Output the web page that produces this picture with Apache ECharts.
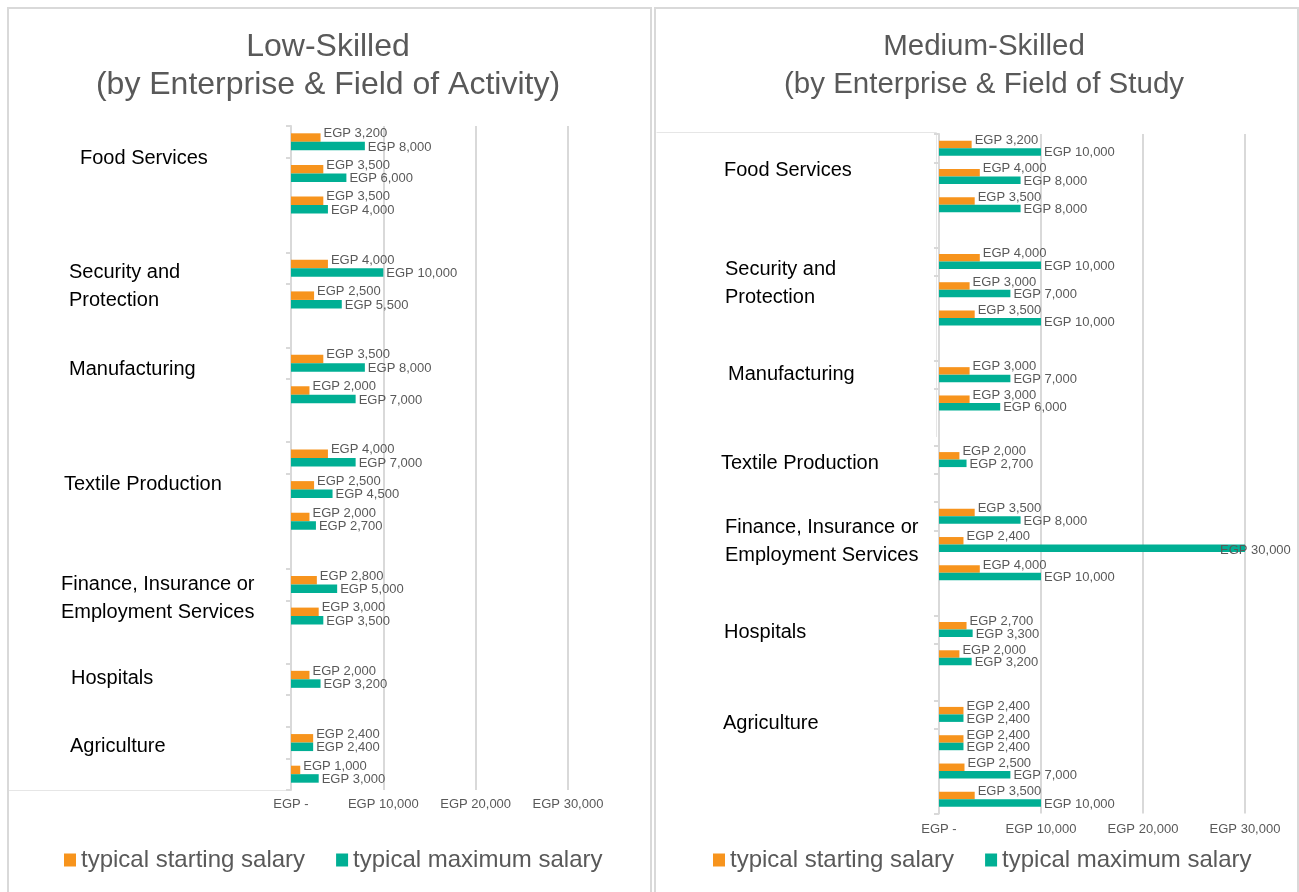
<!DOCTYPE html>
<html>
<head>
<meta charset="utf-8">
<script src="https://cdn.jsdelivr.net/npm/echarts@6/dist/echarts.min.js"></script>
<style>
  html, body { margin: 0; padding: 0; background: #fff; }
  #chart { width: 1299px; height: 892px; }
</style>
</head>
<body>
<div id="chart"></div>
<script>
// one inner array per field, one value per enterprise
const fieldNames = ['Food Services', 'Security and\nProtection', 'Manufacturing', 'Textile Production',
  'Finance, Insurance or\nEmployment Services', 'Hospitals', 'Agriculture'];

const lowStart = [[3200, 3500, 3500], [4000, 2500], [3500, 2000], [4000, 2500, 2000], [2800, 3000], [2000], [2400, 1000]];
const lowMax = [[8000, 6000, 4000], [10000, 5500], [8000, 7000], [7000, 4500, 2700], [5000, 3500], [3200], [2400, 3000]];

const midStart = [[3200, 4000, 3500], [4000, 3000, 3500], [3000, 3000], [2000], [3500, 2400, 4000], [2700, 2000], [2400, 2400, 2500, 3500]];
const midMax = [[10000, 8000, 8000], [10000, 7000, 10000], [7000, 6000], [2700], [8000, 30000, 10000], [3300, 3200], [2400, 2400, 7000, 10000]];

const xTicks = [0, 10000, 20000, 30000];
const seriesNames = ['typical starting salary', 'typical maximum salary'];
const titles = ['Low-Skilled\n(by Enterprise & Field of Activity)', 'Medium-Skilled\n(by Enterprise & Field of Study'];

// layout only: where the field names sit (x, centre of first line)
const lowLabelPos = [[80, 158], [69, 272], [69, 369], [64, 484], [61, 584], [71, 678], [70, 746]];
const midLabelPos = [[724, 170], [725, 269], [728, 374], [721, 463], [725, 527], [724, 632], [723, 723]];

const FONT = '"Liberation Sans", Arial, sans-serif';
const GREY = '#595959';
const ORANGE = '#F7941D';
const TEAL = '#00AF94';

// flatten groups with one empty slot between fields
function slots(groups) {
  const out = [];
  groups.forEach((g, i) => {
    if (i > 0) out.push('-');
    g.forEach(v => out.push(v));
  });
  return out;
}

// tick at start of each field and after its first enterprise
function tickSet(groups) {
  const s = new Set();
  let idx = 0;
  groups.forEach((g, i) => {
    if (i > 0) idx++;
    s.add(idx);
    s.add(idx + 1);
    idx += g.length;
  });
  return s;
}

function egp(v) {
  return v === 0 ? 'EGP -' : 'EGP ' + v.toLocaleString('en-US');
}

function barData(arr) {
  return slots(arr).map(v => {
    // label of a bar that runs to the edge sits over its end
    if (v !== '-' && v > 20000) return { value: v, label: { offset: [-28, 2] } };
    return v;
  });
}

function makeAxes(g, groups, labelMargin) {
  const n = slots(groups).length;
  const cats = [];
  for (let i = 0; i < n; i++) cats.push('s' + i);
  const ticks = tickSet(groups);
  return {
    x: {
      gridIndex: g, type: 'value', min: xTicks[0], max: xTicks[xTicks.length - 1], interval: xTicks[1] - xTicks[0],
      axisLine: { show: false }, axisTick: { show: false },
      axisLabel: { color: GREY, fontSize: 13, fontFamily: FONT, margin: labelMargin, formatter: egp },
      splitLine: { lineStyle: { color: '#d9d9d9', width: 2 } }
    },
    y: {
      gridIndex: g, type: 'category', inverse: true, data: cats,
      axisLine: { lineStyle: { color: '#d9d9d9', width: 2 } },
      axisTick: { show: true, length: 5, lineStyle: { color: '#d9d9d9', width: 2 }, interval: (i) => ticks.has(i) },
      axisLabel: { show: false }
    }
  };
}

function barSeries(name, g, arr, color, width, offsetY) {
  return {
    name: name, type: 'bar', xAxisIndex: g, yAxisIndex: g,
    data: barData(arr), barWidth: width, barGap: '0%',
    itemStyle: { color: color },
    label: {
      show: true, position: 'right', distance: 3, offset: [0, offsetY],
      color: GREY, fontSize: 13, fontFamily: FONT,
      formatter: p => egp(p.value)
    }
  };
}

function fieldLabels(pos) {
  return fieldNames.map((t, i) => ({
    type: 'text', z: 10,
    style: {
      text: t, x: pos[i][0], y: pos[i][1] - 14,
      font: '20px ' + FONT, fill: '#000', lineHeight: 28, verticalAlign: 'top'
    }
  }));
}

const lowAxes = makeAxes(0, lowStart, 8);
const midAxes = makeAxes(1, midStart, 9);

const myChart = echarts.init(document.getElementById('chart'), null, { renderer: 'canvas' });

myChart.setOption({
  animation: false,
  backgroundColor: '#fff',
  title: [
    { text: titles[0], left: 328, top: 28, textAlign: 'center', padding: 0,
      textStyle: { fontSize: 32, fontWeight: 'normal', color: GREY, lineHeight: 38, fontFamily: FONT } },
    { text: titles[1], left: 984, top: 28, textAlign: 'center', padding: 0,
      textStyle: { fontSize: 29.5, fontWeight: 'normal', color: GREY, lineHeight: 38, fontFamily: FONT } }
  ],
  legend: [
    { data: seriesNames, left: 64, top: 848, icon: 'rect', itemWidth: 12, itemHeight: 13, itemGap: 31, padding: 0,
      textStyle: { fontSize: 24, color: GREY, fontFamily: FONT } },
    { data: seriesNames, left: 713, top: 848, icon: 'rect', itemWidth: 12, itemHeight: 13, itemGap: 31, padding: 0,
      textStyle: { fontSize: 24, color: GREY, fontFamily: FONT } }
  ],
  grid: [
    { left: 291, right: 1299 - 568, top: 126, bottom: 892 - 790 },
    { left: 939, right: 1299 - 1245, top: 134, bottom: 892 - 813.5 }
  ],
  xAxis: [lowAxes.x, midAxes.x],
  yAxis: [lowAxes.y, midAxes.y],
  series: [
    barSeries(seriesNames[0], 0, lowStart, ORANGE, 8.5, -4),
    barSeries(seriesNames[1], 0, lowMax, TEAL, 8.5, 1),
    barSeries(seriesNames[0], 1, midStart, ORANGE, 7.5, -4),
    barSeries(seriesNames[1], 1, midMax, TEAL, 7.5, 1)
  ],
  graphic: [
    // panel frames
    { type: 'rect', z: -1, silent: true, shape: { x: 8, y: 8, width: 643, height: 900 },
      style: { fill: 'none', stroke: '#d9d9d9', lineWidth: 2 } },
    { type: 'rect', z: -1, silent: true, shape: { x: 655, y: 8, width: 643, height: 900 },
      style: { fill: 'none', stroke: '#d9d9d9', lineWidth: 2 } },
    // edges of the label boxes
    { type: 'line', z: -1, silent: true, shape: { x1: 9, y1: 790.5, x2: 289, y2: 790.5 },
      style: { stroke: '#e6e6e6', lineWidth: 1 } },
    { type: 'polyline', z: -1, silent: true, shape: { points: [[656.5, 132.5], [936.5, 132.5], [936.5, 437]] },
      style: { fill: 'none', stroke: '#e6e6e6', lineWidth: 1 } }
  ].concat(fieldLabels(lowLabelPos), fieldLabels(midLabelPos))
});
</script>
</body>
</html>
